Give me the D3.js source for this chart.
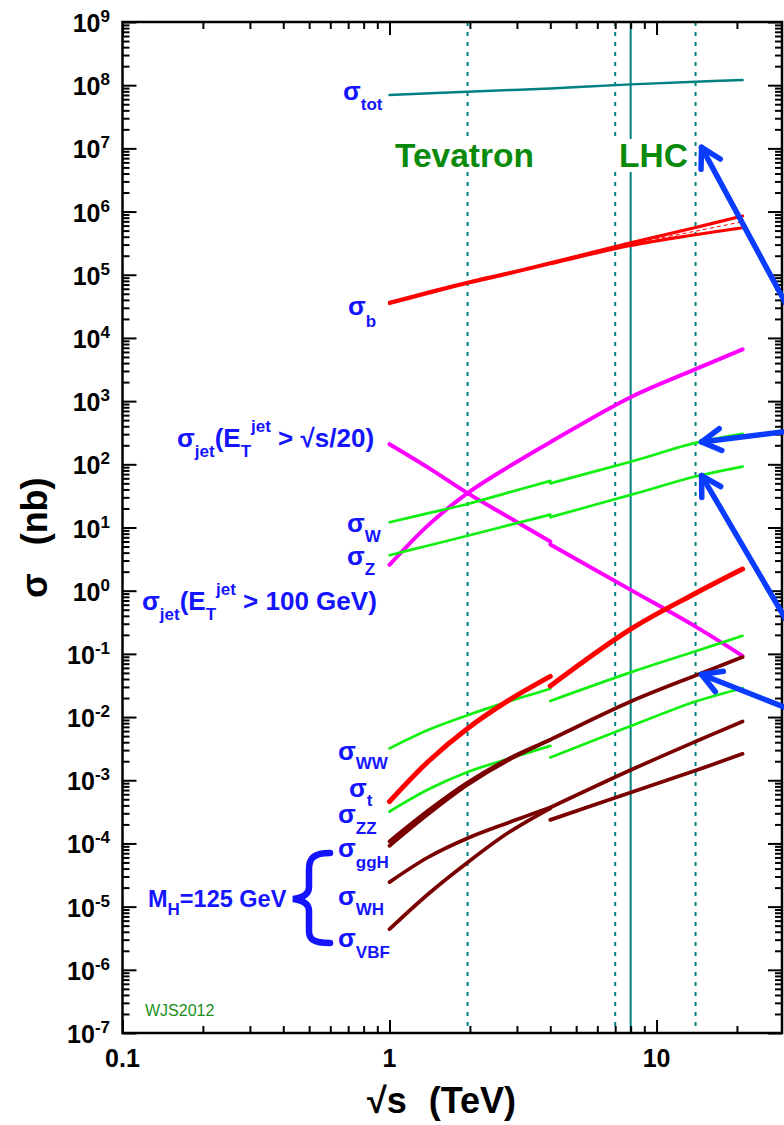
<!DOCTYPE html>
<meta charset="utf-8">
<script src="https://d3js.org/d3.v7.min.js"></script>
<style>
body { margin: 0; background: #fff; }
svg { display: block; font-family: "Liberation Sans", Arial, Helvetica, sans-serif; font-weight: bold; }
text { white-space: pre; }
</style>
<div id="chart"></div>
<script>
// energies (TeV): ppbar below 4 TeV, pp above
var sPpbar = [1, 1.4, 1.96, 2.8, 4];
var sPp = [4, 8, 14, 21];
var sAll = [1, 1.4, 1.96, 2.8, 4, 8, 14, 21];
var sTot = [1, 1.96, 4, 8, 14, 21];

// cross sections (nb)
var sigTot = [7.0e7, 7.9e7, 8.9e7, 1.03e8, 1.13e8, 1.21e8];
var sigBHi = [3.65e4, 5.3e4, 7.6e4, 1.07e5, 1.54e5, 3.2e5, 5.6e5, 8.5e5];
var sigBLo = [3.5e4, 5.1e4, 7.35e4, 1.04e5, 1.49e5, 2.9e5, 4.3e5, 5.55e5];
var sigBMid = [3.57e4, 5.2e4, 7.5e4, 1.055e5, 1.51e5, 3.05e5, 4.9e5, 6.9e5];
var sigJetUp = [2.56, 11, 35, 92, 224, 1153, 3200, 6600];
var sigJetDnPpbar = [208, 88, 35, 14.5, 6.0];
var sigJetDnPp = [5.4, 1.03, 0.27, 0.093];
var sigWPpbar = [12.1, 16.9, 23.6, 35.9, 54.6];
var sigWPp = [50, 110, 218, 303];
var sigZPpbar = [3.64, 5.2, 7.4, 10.9, 16];
var sigZPp = [14.6, 32.8, 64, 92];
var sigTPpbar = [4.6e-4, 2.0e-3, 6.6e-3, 0.0185, 0.044];
var sigTPp = [0.031, 0.246, 0.91, 2.2];
var sigWWPpbar = [3.2e-3, 6.3e-3, 0.0107, 0.0177, 0.0281];
var sigWWPp = [0.018, 0.051, 0.11, 0.193];
var sigZZPpbar = [3.2e-4, 7.2e-4, 1.35e-3, 2.2e-3, 3.5e-3];
var sigZZPp = [2.3e-3, 7.2e-3, 0.0176, 0.0286];
var sigGgH = [1.08e-4, 3.35e-4, 9.2e-4, 2.2e-3, 4.4e-3, 0.0176, 0.0455, 0.089];
var sigGgH2 = [0.92e-4, 2.95e-4, 8.5e-4, 2.1e-3, 4.35e-3];
var sigWHPpbar = [2.44e-5, 6.1e-5, 1.21e-4, 2.15e-4, 3.7e-4];
var sigWHPp = [2.36e-4, 6.4e-4, 1.43e-3, 2.62e-3];
var sigVBFPpbar = [4.4e-6, 1.6e-5, 5.0e-5, 1.5e-4, 3.6e-4];
var sigVBFPp = [3.7e-4, 1.45e-3, 4.1e-3, 8.5e-3];

// collider energies
var dottedE = [1.96, 7, 14];
var solidE = [8];

var xTickLabels = ["0.1", "1", "10"];
var yExponents = [-7, -6, -5, -4, -3, -2, -1, 0, 1, 2, 3, 4, 5, 6, 7, 8, 9];

var W = 784, H = 1125;
var svg = d3.select("#chart").append("svg").attr("width", W).attr("height", H);

var x = d3.scaleLog().domain([0.1, 29.5]).range([122.5, 782]);
var y = d3.scaleLog().domain([1e-7, 1e9]).range([1033, 22]);

var teal = "#008080", red = "#ff0000", mag = "#ff00ff", grn = "#11f011",
    maroon = "#7a0000", blue = "#1414ff", arrowBlue = "#0a3cff", dgreen = "#0a8a0a";

// vertical collider lines
dottedE.forEach(function(e) {
  svg.append("line").attr("x1", x(e)).attr("x2", x(e)).attr("y1", 22).attr("y2", 1033)
    .attr("stroke", teal).attr("stroke-width", 2).attr("stroke-dasharray", "4,6");
});
solidE.forEach(function(e) {
  svg.append("line").attr("x1", x(e)).attr("x2", x(e)).attr("y1", 22).attr("y2", 1033)
    .attr("stroke", teal).attr("stroke-width", 2);
});

// Tevatron / LHC labels with white boxes
[["Tevatron", 395], ["LHC", 619]].forEach(function(t) {
  var g = svg.append("g");
  var r = g.append("rect").attr("fill", "#fff");
  var tx = g.append("text").attr("x", t[1]).attr("y", 167).attr("font-size", 33.5)
    .attr("fill", dgreen).text(t[0]);
  var b = tx.node().getBBox();
  r.attr("x", b.x - 6).attr("y", b.y + 2).attr("width", b.width + 12).attr("height", b.height - 4);
});

// curves
var line = d3.line().x(function(d) { return x(d[0]); }).y(function(d) { return y(d[1]); })
  .curve(d3.curveCatmullRom.alpha(0.5));

var series = [
  [sTot, sigTot, teal, 2.5],
  [sAll, sigBHi, red, 3.2],
  [sAll, sigBLo, red, 3.2],
  [sAll, sigBMid, red, 1, "4,3"],
  [sAll, sigJetUp, mag, 4],
  [sPpbar, sigJetDnPpbar, mag, 4],
  [sPp, sigJetDnPp, mag, 4],
  [sPpbar, sigWPpbar, grn, 2.7],
  [sPp, sigWPp, grn, 2.7],
  [sPpbar, sigZPpbar, grn, 2.7],
  [sPp, sigZPp, grn, 2.7],
  [sPpbar, sigWWPpbar, grn, 2.7],
  [sPp, sigWWPp, grn, 2.7],
  [sPpbar, sigZZPpbar, grn, 2.7],
  [sPp, sigZZPp, grn, 2.7],
  [sPpbar, sigTPpbar, red, 5],
  [sPp, sigTPp, red, 5],
  [sAll, sigGgH, maroon, 3.7],
  [sPpbar, sigGgH2, maroon, 3.7],
  [sPpbar, sigWHPpbar, maroon, 3.7],
  [sPp, sigWHPp, maroon, 3.7],
  [sPpbar, sigVBFPpbar, maroon, 3.7],
  [sPp, sigVBFPp, maroon, 3.7]
];

series.forEach(function(s) {
  var pts = s[0].map(function(e, i) { return [e, s[1][i]]; });
  svg.append("path").attr("d", line(pts)).attr("fill", "none")
    .attr("stroke", s[2]).attr("stroke-width", s[3])
    .attr("stroke-linecap", s[4] ? "butt" : "round")
    .attr("stroke-dasharray", s[4] || null);
});

// frame and ticks
var xAllTicks = x.ticks();
var isMajor = function(v) { var l = Math.log10(v); return Math.abs(l - Math.round(l)) < 1e-6; };
var xMaj = xAllTicks.filter(isMajor), xMin = xAllTicks.filter(function(v) { return !isMajor(v); });
var yAllTicks = y.ticks(40);
var yMaj = yAllTicks.filter(isMajor), yMin = yAllTicks.filter(function(v) { return !isMajor(v); });

function ticks(axisFn, scale, vals, size, tr) {
  var g = svg.append("g").attr("transform", tr)
    .call(axisFn(scale).tickValues(vals).tickSize(size).tickFormat(""));
  g.select(".domain").remove();
  g.selectAll("line").attr("stroke", "#000").attr("stroke-width", 2);
}
ticks(d3.axisBottom, x, xMaj, -13, "translate(0,1033)");
ticks(d3.axisBottom, x, xMin, -7, "translate(0,1033)");
ticks(d3.axisTop, x, xMaj, -13, "translate(0,22)");
ticks(d3.axisTop, x, xMin, -7, "translate(0,22)");
ticks(d3.axisLeft, y, yMaj, -14, "translate(122.5,0)");
ticks(d3.axisLeft, y, yMin, -7, "translate(122.5,0)");
ticks(d3.axisRight, y, yMaj, -14, "translate(782,0)");
ticks(d3.axisRight, y, yMin, -7, "translate(782,0)");

svg.append("rect").attr("x", 122.5).attr("y", 22).attr("width", 782 - 122.5).attr("height", 1033 - 22)
  .attr("fill", "none").attr("stroke", "#000").attr("stroke-width", 2.5);

// tick labels
yExponents.forEach(function(k) {
  var t = svg.append("text").attr("x", 110).attr("y", y(Math.pow(10, k)) + 10)
    .attr("text-anchor", "end").attr("font-size", 25).attr("fill", "#000").text("10");
  t.append("tspan").attr("dy", -10).attr("font-size", 17).text(String(k));
});
xTickLabels.forEach(function(l) {
  svg.append("text").attr("x", x(+l)).attr("y", 1067).attr("text-anchor", "middle")
    .attr("font-size", 25).attr("fill", "#000").text(l);
});

// axis titles
var xt = svg.append("text").attr("x", 367).attr("y", 1113).attr("font-size", 36).attr("fill", "#000").text("\u221As");
xt.append("tspan").attr("dx", 22).text("(TeV)");
var yt = svg.append("text").attr("transform", "translate(47,598) rotate(-90)")
  .attr("font-size", 36).attr("fill", "#000").text("\u03c3");
yt.append("tspan").attr("dx", 28).text("(nb)");

// curve labels
function sigLabel(px, py, sub, dy) {
  var t = svg.append("text").attr("x", px).attr("y", py).attr("font-size", 26).attr("fill", blue).text("\u03c3");
  t.append("tspan").attr("dy", dy).attr("font-size", 17).text(sub);
}
sigLabel(343, 100, "tot", 10);
sigLabel(348, 315, "b", 12);
sigLabel(347, 532, "W", 10);
sigLabel(347, 565, "Z", 10);
sigLabel(338, 760, "WW", 9);
sigLabel(349, 797, "t", 9);
sigLabel(338, 823, "ZZ", 11);
sigLabel(338, 857, "ggH", 11);
sigLabel(338, 905, "WH", 10);
sigLabel(338, 947, "VBF", 11);

function jetLabel(px, py, rest) {
  var t = svg.append("text").attr("x", px).attr("y", py).attr("font-size", 26).attr("fill", blue).text("\u03c3");
  t.append("tspan").attr("dy", 10).attr("font-size", 17).text("jet");
  t.append("tspan").attr("dy", -10).text("(E");
  t.append("tspan").attr("dy", 10).attr("font-size", 17).text("T");
  t.append("tspan").attr("dy", -25).attr("font-size", 17).text("jet");
  t.append("tspan").attr("dy", 15).text(rest);
}
jetLabel(177, 447, " > \u221As/20)");
jetLabel(142, 610, " > 100 GeV)");

var mh = svg.append("text").attr("x", 148).attr("y", 907).attr("font-size", 23.5).attr("fill", blue).text("M");
mh.append("tspan").attr("dy", 8).attr("font-size", 17).text("H");
mh.append("tspan").attr("dy", -8).text("=125 GeV");

// brace
svg.append("path")
  .attr("d", "M330,853 C313,853 309,859 309,869 L309,887 C309,895 301,898 293,899 C301,900 309,903 309,911 L309,931 C309,939 313,943 330,943")
  .attr("fill", "none").attr("stroke", blue).attr("stroke-width", 6.5).attr("stroke-linecap", "round");

svg.append("text").attr("x", 145).attr("y", 1016).attr("font-size", 16).attr("font-weight", "normal")
  .attr("fill", "#1a8f1a").text("WJS2012");

// arrows pointing to 14 TeV values
var arrows = [
  [14, 1e7, 82, 152],
  [14, sigWPp[2], 81, -10],
  [14, sigZPp[2], 82, 140],
  [14, sigGgH[6], 81, 32]
];
arrows.forEach(function(a) {
  var tx = x(a[0]) + 6, ty = y(a[1]) - 1;
  var ang = Math.atan2(a[3], a[2]);
  var L = 200;
  var g = svg.append("g").attr("stroke", arrowBlue).attr("stroke-width", 5.5)
    .attr("stroke-linecap", "round").attr("fill", "none");
  g.append("line").attr("x1", tx).attr("y1", ty)
    .attr("x2", tx + L * Math.cos(ang)).attr("y2", ty + L * Math.sin(ang));
  [-0.52, 0.52].forEach(function(d) {
    g.append("line").attr("x1", tx).attr("y1", ty)
      .attr("x2", tx + 22 * Math.cos(ang + d)).attr("y2", ty + 22 * Math.sin(ang + d));
  });
});
</script>
